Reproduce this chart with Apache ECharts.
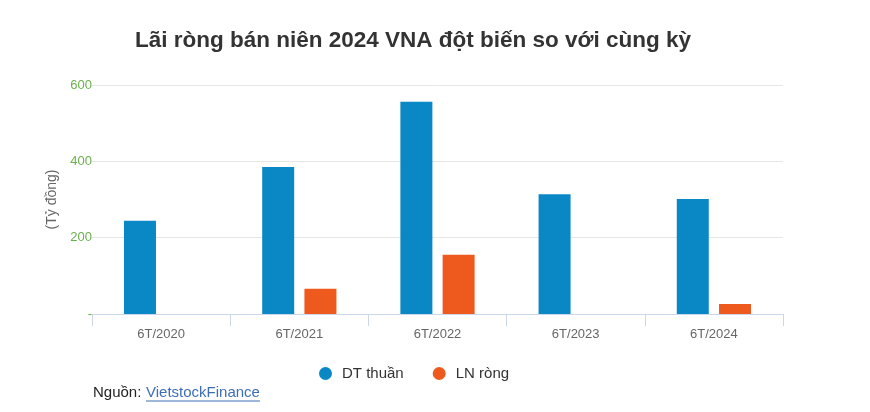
<!DOCTYPE html>
<html><head><meta charset="utf-8">
<script src="https://cdn.jsdelivr.net/npm/echarts@6/dist/echarts.min.js"></script>
<style>html,body{margin:0;padding:0;background:#fff}#c{width:870px;height:412px}</style>
</head><body><div id="c"></div>
<script>
const categories = ['6T/2020','6T/2021','6T/2022','6T/2023','6T/2024'];
const dtThuan = [244, 385, 556, 314, 301];
const lnRong = [0, 66, 155, 0, 26];
const yTicks = [0, 200, 400, 600];
const seriesNames = ['DT thuần', 'LN ròng'];
const chart = echarts.init(document.getElementById('c'));
const F = '"Liberation Sans", Arial, sans-serif';
chart.setOption({
  animation: false,
  title: { text: 'Lãi ròng bán niên 2024 VNA đột biến so với cùng kỳ', left: 408, textAlign: 'center', top: 24,
    textStyle: { fontFamily: F, fontSize: 22.5, fontWeight: 'bold', color: '#333' } },
  legend: { data: seriesNames, top: 361, left: 314, itemWidth: 13, itemHeight: 13, icon: 'circle', itemGap: 29,
    textStyle: { fontFamily: F, fontSize: 15, color: '#333', padding: [0, 0, 0, 5] } },
  grid: { left: 92, right: 87, top: 85, bottom: 98, containLabel: false },
  xAxis: { type: 'category', data: categories,
    axisLine: { lineStyle: { color: '#ccd6eb' } },
    axisTick: { show: true, length: 12, lineStyle: { color: '#ccd6eb' } },
    axisLabel: { fontFamily: F, fontSize: 13, color: '#666', margin: 14 } },
  yAxis: { type: 'value', min: yTicks[0], max: yTicks[yTicks.length - 1], interval: 200,
    name: '(Tỷ đồng)', nameLocation: 'middle', nameGap: 33, nameRotate: 90,
    nameTextStyle: { fontFamily: F, fontSize: 14, color: '#666' },
    axisLabel: { fontFamily: F, fontSize: 13, color: '#6ab04c', margin: 0, verticalAlign: 'middle', padding: [0, 0, 6, 0],
      formatter: v => v === 0 ? '-' : String(v) },
    splitLine: { lineStyle: { color: '#e6e6e6' } },
    axisLine: { show: false }, axisTick: { show: false } },
  series: [
    { name: seriesNames[0], type: 'bar', data: dtThuan, barWidth: 32, barGap: '32%', itemStyle: { color: '#0a88c6' } },
    { name: seriesNames[1], type: 'bar', data: lnRong, barWidth: 32, itemStyle: { color: '#ee5a1e' } }
  ],
  graphic: [
    { type: 'text', left: 93, top: 385, style: { text: 'Nguồn:', fontFamily: F, fontSize: 15, fill: '#222' } },
    { type: 'text', left: 146, top: 385, style: { text: 'VietstockFinance', fontFamily: F, fontSize: 15, fill: '#3d6fb4' } },
    { type: 'line', shape: { x1: 146, y1: 401, x2: 260, y2: 401 }, style: { stroke: '#3d6fb4', lineWidth: 1 } }
  ]
});
</script></body></html>
